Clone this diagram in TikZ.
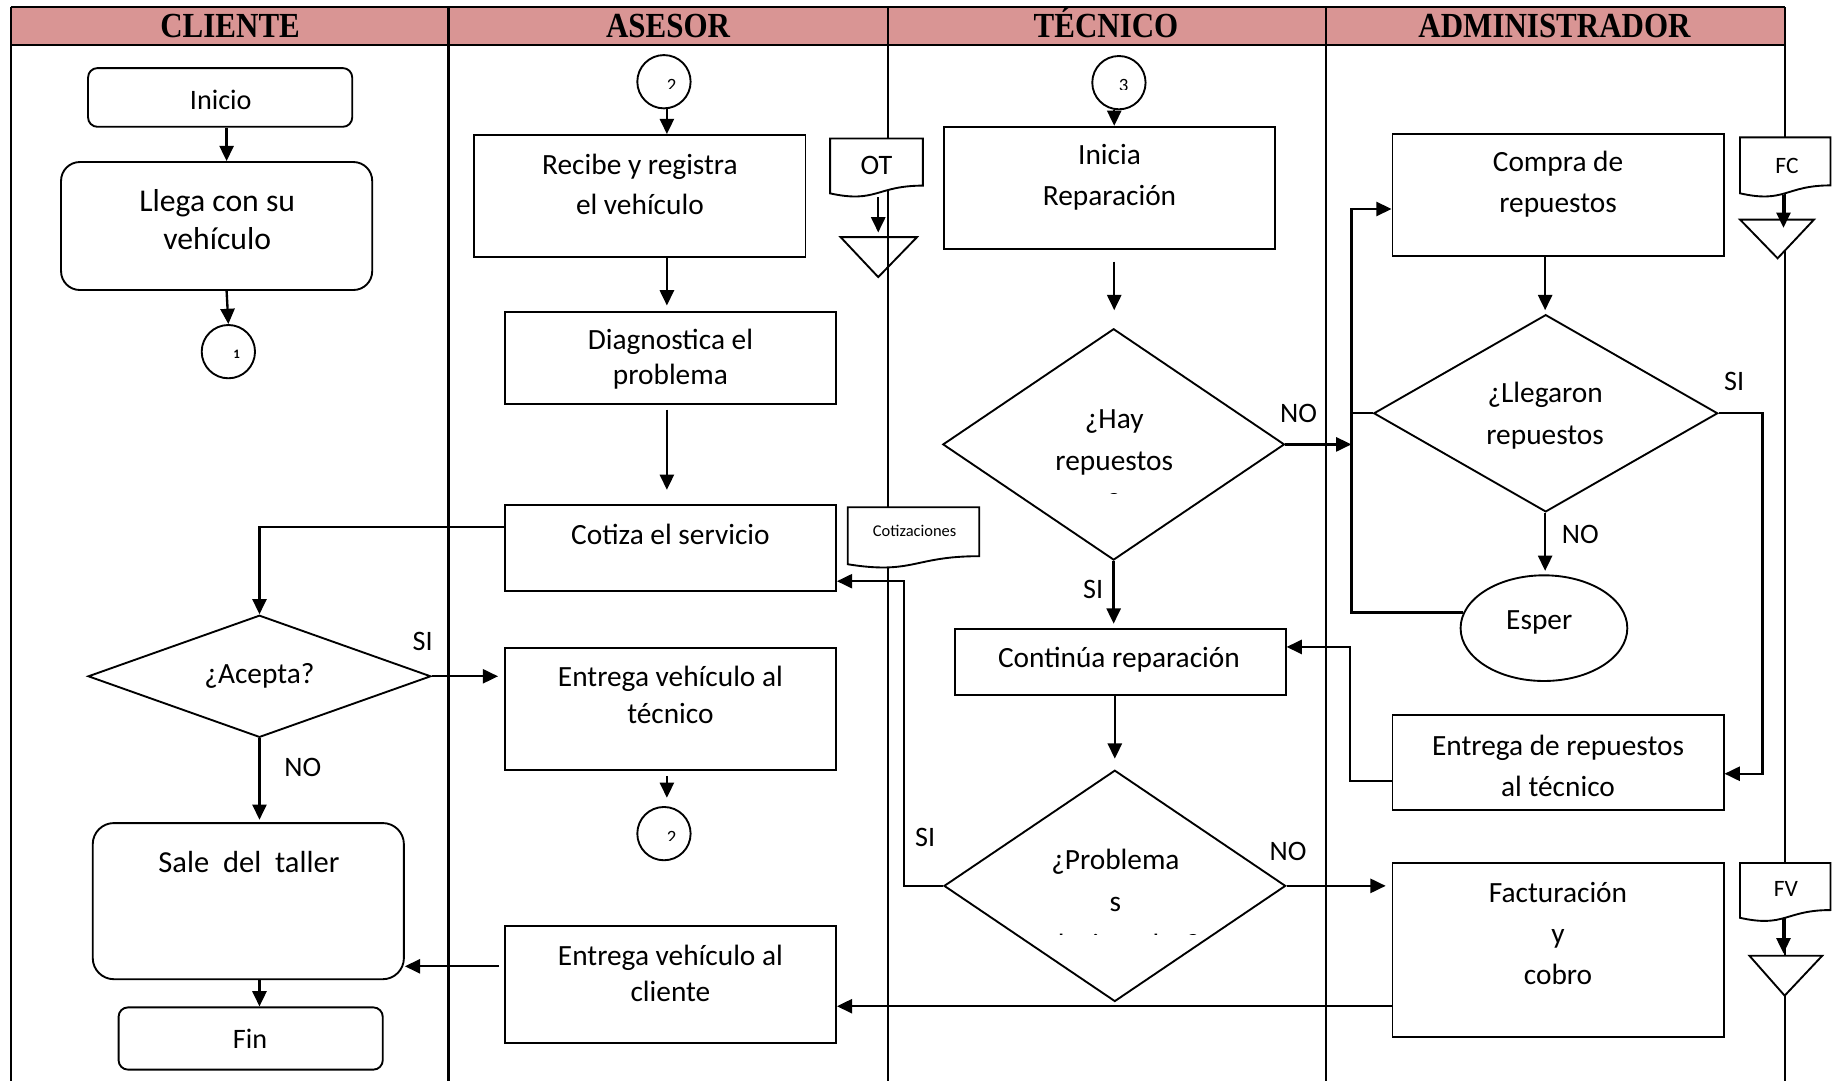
\documentclass[tikz,border=0pt]{standalone}
\usepackage{fontspec}
\setmainfont{Carlito}
\newfontfamily\headfont[FakeStretch=0.88]{Liberation Serif}
\usetikzlibrary{arrows.meta,shapes.geometric,fit}
\definecolor{lanehead}{HTML}{D99594}
% document symbol: left, top, right, nominal height
\newcommand\docshape[4]{%
  \pgfmathsetmacro\docM{(#1+#3)/2}%
  \pgfmathsetmacro\docR{#2+0.802*#4}%
  \pgfmathsetmacro\docC{#2+1.107*#4}%
  \pgfmathsetmacro\docL{#2+0.934*#4}%
  \draw[docline] (#1,#2) -- (#3,#2) -- (#3,\docR) .. controls (\docM,\docR) and (\docM,\docC) .. (#1,\docL) -- cycle;}
\begin{document}
\begin{tikzpicture}[x=0.5pt,y=-0.5pt,
  lane/.style={line width=0.9pt},
  box/.style={draw,fill=white,line width=0.8pt,inner sep=0pt},
  dia/.style={draw,fill=white,diamond,line width=0.8pt,inner sep=0pt},
  conn/.style={draw,fill=white,circle,line width=0.8pt,inner sep=0pt,minimum size=22.7pt},
  docline/.style={draw,fill=white,line width=0.8pt},
  tri/.style={draw,line width=0.8pt},
  arr/.style={line width=1pt,-{Triangle[length=6.5pt,width=6pt]}},
  ln/.style={line width=1pt},
  txt/.style={align=center,inner sep=0pt,font=\fontsize{12.5}{17.5}\selectfont},
  lbl/.style={inner sep=0pt,font=\fontsize{12}{14}\selectfont},
  digit/.style={inner sep=0pt,anchor=base,font=\fontsize{8}{9}\selectfont},
  head/.style={inner sep=0pt,anchor=base,font=\headfont\bfseries\fontsize{15}{17}\selectfont},
]
\useasboundingbox (0,0) rectangle (1568,921);

% ---- swimlanes ----
\fill[lanehead] (9,6) rectangle (1520,38);
\draw[lane] (9,6) -- (1520,6) (9,38) -- (1520,38);
\foreach \lx in {9,382,756,1129,1520} \draw[lane] (\lx,6) -- (\lx,921);
\node[head] (h1) at (196,32) {CLIENTE};
\node[head] (h2) at (569,32) {ASESOR};
\node[head] (h3) at (942,32) {TÉCNICO};
\node[head] (h4) at (1324,32) {ADMINISTRADOR};

% ---- CLIENTE ----
\node[box,rounded corners=4pt,fit={(75,58)(300,108)}] (inicio) {};
\node[txt,font=\fontsize{12}{14}\selectfont] (inicio-t) at (188,85) {Inicio};
\node[box,rounded corners=8pt,fit={(52,138)(317,247)}] (llega) {};
\node[txt,font=\fontsize{13.5}{16.5}\selectfont] (llega-t) at (185,187) {Llega con su\\vehículo};
\node[conn] (c1) at (194.5,299.5) {};
\node[inner sep=0pt,font=\bfseries\fontsize{5.5}{6}\selectfont] (c1-t) at (201.5,302) {1};
\node[dia,minimum width=146pt,minimum height=52pt] (acepta) at (221,576) {};
\node[txt] (acepta-t) at (221,576) {¿Acepta?};
\node[box,rounded corners=9pt,fit={(79,701)(344,834)}] (sale) {};
\node[txt,font=\fontsize{13}{16}\selectfont] (sale-t) at (212,734) {Sale~~del~~taller};
\node[box,rounded corners=4pt,fit={(101,858)(326,911)}] (fin) {};
\node[txt,font=\fontsize{12}{14}\selectfont] (fin-t) at (213,885) {Fin};

% ---- ASESOR ----
\node[conn] (c2a) at (565.5,69.6) {};
\begin{scope}
  \clip (550,55) rectangle (590,75.5);
  \node[digit] (c2a-t) at (572,78) {2};
\end{scope}
\node[box,fit={(404,115)(686,219)}] (recibe) {};
\node[txt,font=\fontsize{12.5}{17}\selectfont] (recibe-t) at (545,157) {Recibe y registra\\el vehículo};
\node[box,fit={(430,266)(712,344)}] (diag) {};
\node[txt,font=\fontsize{12.5}{15}\selectfont] (diag-t) at (571,306) {Diagnostica el\\problema};
\node[box,fit={(430,430)(712,503)}] (cotiza) {};
\node[txt] (cotiza-t) at (571,455) {Cotiza el servicio};
\node[box,fit={(430,552)(712,656)}] (entregaT) {};
\node[txt,font=\fontsize{12.5}{15.5}\selectfont] (entregaT-t) at (571,592) {Entrega vehículo al\\técnico};
\node[conn] (c2b) at (565.5,710) {};
\begin{scope}
  \clip (550,695) rectangle (590,715.5);
  \node[digit] (c2b-t) at (572,718) {2};
\end{scope}
\node[box,fit={(430,789)(712,888)}] (entregaC) {};
\node[txt,font=\fontsize{12.5}{15.5}\selectfont] (entregaC-t) at (571,829) {Entrega vehículo al\\cliente};

% documents OT and Cotizaciones
\docshape{707}{118}{786}{50}
\node[inner sep=0pt,font=\fontsize{12}{14}\selectfont] (ot) at (746.5,141) {OT};
\coordinate (ot-b) at (748,168);
\coordinate (ot-v) at (748,202);
\draw[tri] (716,202) -- (781,202) -- (748,236) -- cycle;
\docshape{722}{432}{834}{52}
\node[inner sep=0pt,font=\fontsize{7}{8}\selectfont] (cotz) at (779,452) {Cotizaciones};

% ---- TÉCNICO ----
\node[conn] (c3) at (953,70.4) {};
\begin{scope}
  \clip (940,55) rectangle (975,76);
  \node[digit] (c3-t) at (957,78) {3};
\end{scope}
\node[box,fit={(804,108)(1086,212)}] (inicia) {};
\node[txt] (inicia-t) at (945,151) {Inicia\\Reparación};
\node[dia,minimum width=145.5pt,minimum height=98.5pt] (hay) at (948.5,378.5) {};
\begin{scope}
  \clip (850,320) rectangle (1050,420.5);
  \node[txt,font=\fontsize{12.5}{18}\selectfont] (hay-t) at (949,393) {¿Hay\\repuestos\\?};
\end{scope}
\node[box,fit={(813,536)(1095,592)}] (continua) {};
\node[txt] (continua-t) at (953,562) {Continúa reparación};
\node[dia,minimum width=145.5pt,minimum height=98.5pt] (prob) at (949.5,754.5) {};
\begin{scope}
  \clip (850,700) rectangle (1050,796);
  \node[txt,font=\fontsize{12.5}{18}\selectfont] (prob-t) at (950,768) {¿Problema\\s\\solucionados?};
\end{scope}

% ---- ADMINISTRADOR ----
\node[box,fit={(1186,114)(1468,218)}] (compra) {};
\node[txt] (compra-t) at (1327,157) {Compra de\\repuestos};
\node[dia,minimum width=146.5pt,minimum height=84pt] (lleg) at (1316.5,352) {};
\node[txt] (lleg-t) at (1316,354) {¿Llegaron\\repuestos};
\node[draw,fill=white,ellipse,line width=0.8pt,inner sep=0pt,minimum width=71pt,minimum height=45pt] (esper) at (1315,535) {};
\node[txt] (esper-t) at (1311,530) {Esper};
\node[box,fit={(1186,609)(1468,690)}] (entregaR) {};
\node[txt] (entregaR-t) at (1327,652) {Entrega de repuestos\\al técnico};
\node[box,fit={(1186,735)(1468,883)}] (factura) {};
\node[txt,font=\fontsize{12.5}{17.5}\selectfont] (factura-t) at (1327,795) {Facturación\\y\\cobro};

% documents FC and FV
\docshape{1482}{117}{1559}{51}
\node[inner sep=0pt,font=\fontsize{10}{12}\selectfont] (fc) at (1522,141) {FC};
\coordinate (fc-b) at (1519,166);
\coordinate (fc-v) at (1519,194);
\draw[tri,fill=white] (1482,187) -- (1545,187) -- (1514,220) -- cycle;
\docshape{1482}{735}{1559}{50}
\node[inner sep=0pt,font=\fontsize{10}{12}\selectfont] (fv) at (1521,757) {FV};
\coordinate (fv-b) at (1519,783);
\coordinate (fv-v) at (1519,812);
\draw[tri,fill=white] (1490,814) -- (1552,814) -- (1520,848) -- cycle;

% ---- branch labels ----
\node[lbl] (l-si1) at (360,546) {SI};
\node[lbl] (l-no1) at (258,654) {NO};
\node[lbl] (l-no2) at (1106,352) {NO};
\node[lbl] (l-si2) at (931,502) {SI};
\node[lbl] (l-si3) at (788,713) {SI};
\node[lbl] (l-no3) at (1097,725) {NO};
\node[lbl] (l-si4) at (1477,325) {SI};
\node[lbl] (l-no4) at (1346,455) {NO};

% ---- connectors ----
\coordinate (axC) at (193,0);
\coordinate (axA) at (568,0);
\coordinate (axT) at (949,0);
\coordinate (axD) at (1316,0);
\coordinate (loopL) at (1151,178);
\coordinate (siR) at (1501,659);
\coordinate (retB) at (1150,665);
\coordinate (retT) at (1150,551);
\coordinate (factB) at (1186,857);
\coordinate (siL) at (770,495);
\coordinate (cotA) at (430,449);
\coordinate (retC) at (425,823);

\draw[arr] (inicio.south -| axC) -- (llega.north -| axC);
\draw[arr] (llega.south -| axC) -- (c1.north);
\draw[arr] (cotA) -| (acepta.north);
\draw[arr,shorten >=2.5pt] (acepta.east) -- (entregaT.west |- acepta.east);
\draw[arr,shorten >=1pt] (acepta.south) -- (sale.north -| acepta.south);
\draw[arr] (retC) -- (sale.east |- retC);
\draw[arr] (sale.south -| acepta.south) -- (fin.north -| acepta.south);

\draw[arr] (c2a.south -| axA) -- (recibe.north -| axA);
\draw[arr,shorten >=2.5pt] (recibe.south -| axA) -- (diag.north -| axA);
\draw[arr,shorten <=2pt,shorten >=6pt] (diag.south -| axA) -- (cotiza.north -| axA);
\draw[arr,shorten <=2pt,shorten >=3.5pt] (entregaT.south -| axA) -- (c2b.north -| axA);
\draw[arr] (ot-b) -- ([yshift=2pt]ot-v);

\draw[arr] (c3.south -| axT) -- (inicia.north -| axT);
\draw[arr,shorten <=5pt,shorten >=7.5pt] (inicia.south -| axT) -- (hay.north -| axT);
\draw[arr,shorten >=2pt] (hay.south) -- (continua.north -| hay.south);
\draw[arr,shorten >=4.5pt] (continua.south -| prob.north) -- (prob.north);
\draw[arr] (hay.east) -- (hay.east -| loopL);
\draw[arr,shorten >=2.5pt] (prob.east) -- (prob.east -| factura.west);
\draw[arr] (prob.west) -| (siL) -- (cotiza.east |- siL);

\draw[arr,shorten >=1.5pt] (compra.south -| axD) -- (lleg.north -| axD);
\draw[arr,shorten >=1.5pt] (lleg.south -| axD) -- (esper.north -| axD);
\draw[arr] (esper.169) -| (loopL) -- (compra.west |- loopL);
\draw[ln] (lleg.west) -- (lleg.west -| loopL);
\draw[arr] (lleg.east) -| (siR) -- (entregaR.east |- siR);
\draw[arr] (entregaR.west |- retB) -- (retB) -- (retT) -- (continua.east |- retT);
\draw[arr] (factB) -- (entregaC.east |- factB);
\draw[arr] (fc-b) -- (fc-v);
\draw[arr] (fv-b) -- (fv-v);
\end{tikzpicture}
\end{document}
